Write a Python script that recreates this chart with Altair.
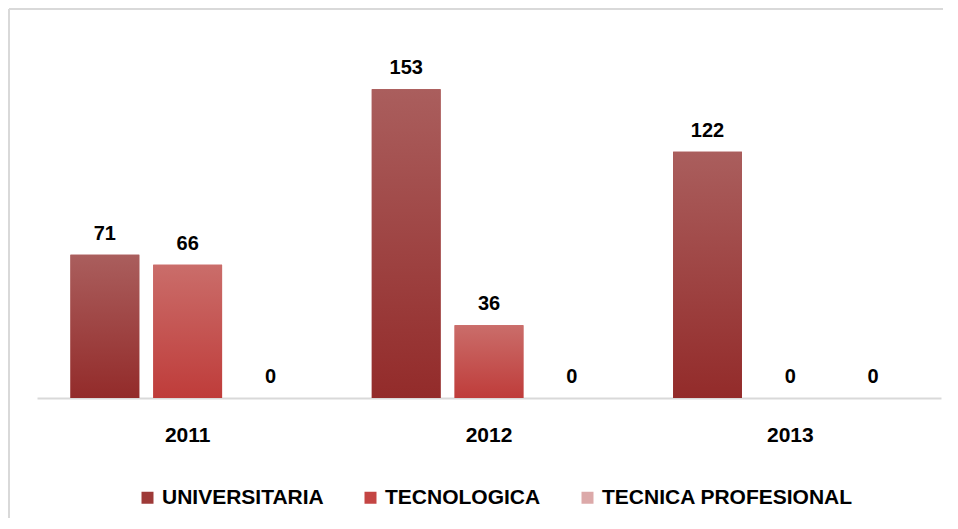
import altair as alt
import pandas as pd

years = ["2011", "2012", "2013"]
series = ["UNIVERSITARIA", "TECNOLOGICA", "TECNICA PROFESIONAL"]
universitaria = [71, 153, 122]
tecnologica = [66, 36, 0]
tecnica = [0, 0, 0]

rows = []
for i, y in enumerate(years):
    rows.append({"year": y, "series": series[0], "value": universitaria[i]})
    rows.append({"year": y, "series": series[1], "value": tecnologica[i]})
    rows.append({"year": y, "series": series[2], "value": tecnica[i]})
df = pd.DataFrame(rows)

solid = ["#9e3a38", "#c44543", "#dca9a9"]
grads = {
    series[0]: ("#aa5e5d", "#932b2a"),
    series[1]: ("#ca6d6a", "#bf3c3a"),
}

W, H = 904, 343
FONT = "Liberation Sans"

x_enc = alt.X("year:N", scale=alt.Scale(domain=years, paddingInner=0, paddingOuter=0),
              axis=alt.Axis(title=None, labelAngle=0, ticks=False, domainColor="#d9d9d9",
                            domainWidth=2, labelFont=FONT, labelFontSize=21,
                            labelFontWeight="bold", labelColor="#000000", labelPadding=26))
xo_enc = alt.XOffset("series:N", scale=alt.Scale(domain=series, paddingInner=0.169, paddingOuter=0.404))
y_enc = alt.Y("value:Q", scale=alt.Scale(domain=[0, 170], nice=False), axis=None)

base = alt.Chart(df).mark_bar().encode(
    x=x_enc, xOffset=xo_enc, y=y_enc,
    color=alt.Color("series:N", scale=alt.Scale(domain=series, range=solid),
                    legend=alt.Legend(title=None, orient="none", legendX=100, legendY=432,
                                      direction="horizontal", symbolType="square",
                                      symbolSize=144, symbolStrokeWidth=0,
                                      labelFont=FONT, labelFontSize=21, labelFontWeight="bold",
                                      labelColor="#000000", columnPadding=36, labelOffset=4,
                                      labelLimit=0)),
)

layers = [base]
for s, (top, bot) in grads.items():
    layers.append(
        alt.Chart(df).transform_filter(alt.datum.series == s).mark_bar(
            fill=alt.Gradient(gradient="linear", x1=0, x2=0, y1=0, y2=1,
                              stops=[alt.GradientStop(color=top, offset=0),
                                     alt.GradientStop(color=bot, offset=1)])
        ).encode(x=x_enc, xOffset=xo_enc, y=y_enc)
    )

labels = alt.Chart(df).mark_text(dy=-15, baseline="alphabetic", font=FONT, fontSize=20,
                                 fontWeight="bold", color="#000000").encode(
    x=x_enc, xOffset=xo_enc, y=y_enc, text=alt.Text("value:Q"))

one = pd.DataFrame({"a": [0]})
frame_top = alt.Chart(one).mark_rule(color="#d9d9d9", strokeWidth=2, clip=False).encode(
    x=alt.value(-28), x2=alt.value(960), y=alt.value(-46))
frame_left = alt.Chart(one).mark_rule(color="#d9d9d9", strokeWidth=2, clip=False).encode(
    x=alt.value(-28), y=alt.value(-46), y2=alt.value(500))

chart = alt.layer(frame_top, frame_left, *layers, labels).properties(
    width=W, height=H,
    autosize=alt.AutoSizeParams(type="none"),
    padding={"left": 29, "top": 47, "right": 2, "bottom": 120},
).configure_view(stroke=None)

chart.save("out.html", embed_options={"renderer": "svg", "actions": False})
